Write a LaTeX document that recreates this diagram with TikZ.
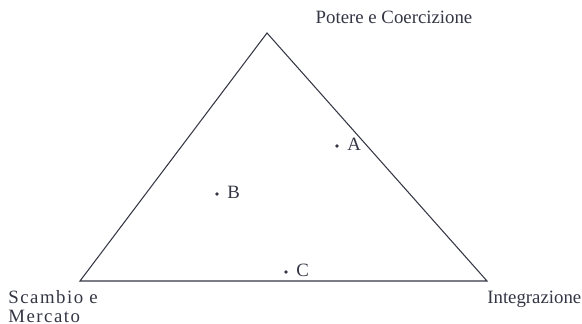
\documentclass[tikz,border=0pt]{standalone}
\usepackage{fontspec}
\setmainfont{Liberation Serif}
\usetikzlibrary{positioning}
\definecolor{ink}{RGB}{52, 54, 68}

\begin{document}
\begin{tikzpicture}[x=0.02cm, y=-0.02cm, every node/.style={font=\fontsize{10.7}{13}\selectfont, text=ink}]
        \useasboundingbox (0,0) rectangle (582,324);
        % vertices of the triangle
        \coordinate (pot) at (267,33);
        \coordinate (sca) at (80,281);
        \coordinate (int) at (487,281);
        \draw[ink, line width=0.6pt, line join=miter] (pot) -- (sca) -- (int) -- cycle;

        % vertex labels
        \node[anchor=center] (potlbl) at (394,17) {Potere e Coercizione};
        \node[anchor=north west, align=left, inner sep=0pt, font=\fontsize{10.7}{10.8}\selectfont\addfontfeatures{LetterSpace=8}] (scalbl) at (8,290) {Scambio e\\Mercato};
        \node[anchor=west, inner sep=0pt] (intlbl) at (487,299) {Integrazione};

        % points inside
        \foreach \n/\x/\y in {A/337/146, B/217/194, C/286/272}{
          \fill[ink] (\x,\y) circle (1.9);
          \node[anchor=west, inner sep=0pt] (pt\n) at (\x+10,\y-2) {\n};
        }
      \end{tikzpicture}
\end{document}
